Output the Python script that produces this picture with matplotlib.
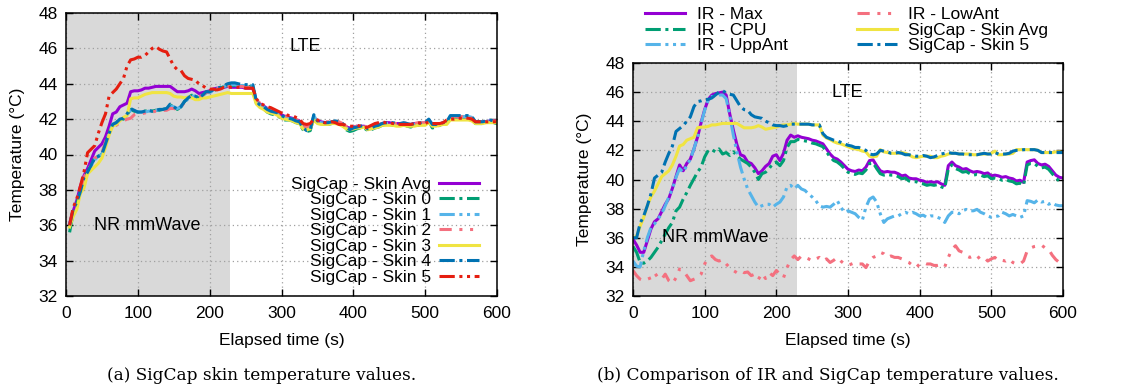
import numpy as np
import matplotlib
matplotlib.use("Agg")
import matplotlib.pyplot as plt

# ---------------- data (5 s sampling, 0..600 s) ----------------
time_s = np.arange(0, 601, 5)

skin_avg = [36.0, 36.1, 36.8, 37.4, 38.2, 38.8, 39.2, 39.7, 40.2, 40.4,
            40.6, 41.0, 41.6, 42.3, 42.4, 42.7, 42.8, 42.9, 43.55, 43.6,
            43.6, 43.65, 43.75, 43.75, 43.8, 43.85, 43.85, 43.85, 43.85, 43.85,
            43.7, 43.55, 43.55, 43.55, 43.6, 43.7, 43.6, 43.45, 43.5, 43.55,
            43.6, 43.7, 43.75, 43.75, 43.8, 43.85, 43.8, 43.8, 43.8, 43.8,
            43.75, 43.75, 43.75, 43.05, 42.85, 42.75, 42.6, 42.5, 42.45, 42.35,
            42.25, 42.15, 42.1, 42.05, 41.95, 41.9, 41.6, 41.55, 41.6, 42.05,
            41.9, 41.85, 41.8, 41.8, 41.8, 41.85, 41.8, 41.7, 41.55, 41.5,
            41.55, 41.6, 41.6, 41.6, 41.5, 41.5, 41.6, 41.65, 41.75, 41.8,
            41.8, 41.75, 41.75, 41.75, 41.75, 41.7, 41.7, 41.75, 41.75, 41.75,
            41.8, 41.95, 41.7, 41.7, 41.75, 41.75, 41.8, 42.05, 42.05, 42.05,
            42.05, 42.05, 42.05, 42.0, 41.85, 41.85, 41.85, 41.85, 41.9, 41.9,
            41.85]

skin0 = [35.6, 35.6, 36.7, 37.2, 37.9, 38.6, 39.0, 39.4, 39.8, 39.9,
         40.0, 40.6, 41.2, 41.7, 41.8, 42.0, 42.0, 42.25, 42.55, 42.45,
         42.4, 42.4, 42.45, 42.5, 42.45, 42.5, 42.5, 42.55, 42.6, 42.8,
         42.7, 42.55, 42.7, 43.0, 43.2, 43.35, 43.3, 43.2, 43.35, 43.5,
         43.55, 43.6, 43.7, 43.75, 43.85, 43.9, 43.9, 43.9, 43.9, 43.85,
         43.85, 43.85, 43.85, 42.9, 42.7, 42.6, 42.4, 42.3, 42.25, 42.2,
         42.0, 41.95, 41.95, 41.9, 41.8, 41.75, 41.4, 41.3, 41.35, 42.1,
         41.8, 41.75, 41.7, 41.7, 41.75, 41.8, 41.75, 41.65, 41.4, 41.3,
         41.35, 41.45, 41.5, 41.5, 41.35, 41.4, 41.5, 41.55, 41.65, 41.7,
         41.7, 41.65, 41.65, 41.65, 41.7, 41.6, 41.55, 41.65, 41.65, 41.7,
         41.7, 41.9, 41.5, 41.55, 41.65, 41.7, 41.75, 42.1, 42.1, 42.1,
         42.1, 42.1, 42.1, 42.0, 41.75, 41.75, 41.75, 41.8, 41.85, 41.8,
         41.75]

skin1 = [35.9, 36.0, 36.8, 37.3, 37.9, 38.6, 39.0, 39.35, 39.7, 39.9,
         40.0, 40.6, 41.2, 41.7, 41.8, 41.95, 42.0, 42.2, 42.5, 42.45,
         42.4, 42.4, 42.4, 42.45, 42.45, 42.5, 42.5, 42.55, 42.6, 42.75,
         42.7, 42.6, 42.7, 42.95, 43.15, 43.3, 43.3, 43.2, 43.3, 43.5,
         43.5, 43.6, 43.7, 43.75, 43.85, 43.9, 43.95, 43.95, 43.9, 43.9,
         43.9, 43.9, 43.9, 43.0, 42.8, 42.7, 42.5, 42.45, 42.4, 42.3,
         42.15, 42.1, 42.05, 42.0, 41.9, 41.85, 41.5, 41.4, 41.45, 42.2,
         41.85, 41.8, 41.75, 41.75, 41.8, 41.85, 41.8, 41.7, 41.5, 41.4,
         41.45, 41.5, 41.55, 41.6, 41.45, 41.45, 41.55, 41.6, 41.7, 41.75,
         41.75, 41.75, 41.7, 41.7, 41.75, 41.7, 41.65, 41.7, 41.7, 41.75,
         41.75, 41.95, 41.65, 41.65, 41.7, 41.75, 41.8, 42.15, 42.15, 42.15,
         42.15, 42.15, 42.15, 42.1, 41.8, 41.8, 41.8, 41.85, 41.9, 41.85,
         41.85]

skin2 = [36.0, 36.0, 36.9, 37.3, 37.9, 38.7, 39.1, 39.4, 39.8, 39.9,
         40.1, 40.7, 41.2, 41.6, 41.65, 41.8, 41.9, 42.0, 42.05, 42.25,
         42.3, 42.3, 42.35, 42.4, 42.4, 42.45, 42.45, 42.5, 42.5, 42.6,
         42.6, 42.55, 42.7, 42.95, 43.15, 43.3, 43.3, 43.25, 43.35, 43.5,
         43.55, 43.6, 43.7, 43.75, 43.8, 43.85, 43.85, 43.85, 43.85, 43.85,
         43.8, 43.8, 43.8, 43.1, 42.9, 42.8, 42.65, 42.55, 42.5, 42.4,
         42.3, 42.2, 42.15, 42.1, 42.0, 41.9, 41.65, 41.55, 41.6, 42.1,
         41.9, 41.85, 41.85, 41.85, 41.9, 41.9, 41.85, 41.75, 41.6, 41.5,
         41.55, 41.6, 41.6, 41.65, 41.5, 41.55, 41.6, 41.7, 41.75, 41.8,
         41.8, 41.8, 41.75, 41.75, 41.8, 41.75, 41.75, 41.75, 41.8, 41.8,
         41.8, 41.95, 41.75, 41.75, 41.75, 41.8, 41.85, 42.15, 42.15, 42.15,
         42.15, 42.1, 42.1, 42.05, 41.85, 41.85, 41.85, 41.9, 41.9, 41.9,
         41.9]

skin3 = [35.9, 35.9, 36.5, 36.9, 37.8, 38.1, 38.9, 39.1, 39.3, 39.5,
         39.8, 40.4, 41.1, 41.6, 41.7, 41.9, 42.1, 42.2, 43.15, 43.2,
         43.2, 43.3, 43.4, 43.45, 43.5, 43.5, 43.5, 43.5, 43.5, 43.45,
         43.3, 43.25, 43.25, 43.2, 43.25, 43.2, 43.1, 43.1, 43.2, 43.2,
         43.25, 43.3, 43.35, 43.4, 43.45, 43.5, 43.45, 43.45, 43.45, 43.45,
         43.45, 43.45, 43.45, 42.85, 42.65, 42.55, 42.4, 42.35, 42.3, 42.2,
         42.05, 42.0, 41.95, 41.9, 41.8, 41.75, 41.45, 41.4, 41.45, 41.95,
         41.75, 41.7, 41.7, 41.7, 41.75, 41.75, 41.7, 41.6, 41.45, 41.4,
         41.45, 41.5, 41.5, 41.55, 41.4, 41.45, 41.5, 41.55, 41.65, 41.65,
         41.65, 41.65, 41.6, 41.6, 41.65, 41.6, 41.6, 41.6, 41.65, 41.65,
         41.65, 41.8, 41.6, 41.6, 41.65, 41.7, 41.7, 41.95, 41.95, 41.95,
         41.95, 41.95, 41.95, 41.9, 41.75, 41.75, 41.75, 41.8, 41.8, 41.8,
         41.8]

skin4 = [36.0, 36.0, 36.9, 37.3, 37.9, 38.7, 39.0, 39.4, 39.8, 39.9,
         40.0, 40.6, 41.2, 41.7, 41.8, 42.0, 42.05, 42.3, 42.6, 42.5,
         42.4, 42.4, 42.45, 42.5, 42.45, 42.5, 42.55, 42.55, 42.6, 42.85,
         42.7, 42.55, 42.7, 43.0, 43.2, 43.35, 43.3, 43.2, 43.35, 43.55,
         43.55, 43.65, 43.75, 43.8, 43.9, 44.0, 44.05, 44.05, 44.0, 43.95,
         43.95, 43.95, 43.95, 43.0, 42.8, 42.7, 42.55, 42.45, 42.4, 42.35,
         42.2, 42.1, 42.05, 42.0, 41.9, 41.85, 41.5, 41.35, 41.4, 42.25,
         41.9, 41.85, 41.8, 41.8, 41.85, 41.9, 41.85, 41.75, 41.55, 41.4,
         41.5, 41.55, 41.6, 41.65, 41.45, 41.5, 41.6, 41.65, 41.75, 41.8,
         41.8, 41.8, 41.75, 41.75, 41.8, 41.75, 41.7, 41.75, 41.75, 41.8,
         41.8, 42.0, 41.7, 41.7, 41.75, 41.8, 41.85, 42.2, 42.2, 42.2,
         42.2, 42.2, 42.2, 42.15, 41.85, 41.85, 41.85, 41.9, 41.95, 41.9,
         41.9]

skin5 = [36.0, 36.0, 37.0, 37.5, 38.2, 39.0, 40.1, 40.3, 40.5, 41.2,
         41.8, 42.3, 43.3, 43.5, 43.7, 44.0, 44.3, 45.0, 45.35, 45.4,
         45.5, 45.5, 45.6, 45.8, 46.0, 46.1, 45.95, 45.85, 45.8, 45.4,
         45.0, 44.8, 44.75, 44.45, 44.3, 44.25, 44.2, 44.0, 43.9, 43.75,
         43.7, 43.7, 43.65, 43.7, 43.8, 43.8, 43.8, 43.8, 43.8, 43.8,
         43.75, 43.75, 43.75, 43.15, 42.9, 42.8, 42.7, 42.65, 42.55, 42.45,
         42.35, 42.3, 42.2, 42.2, 42.1, 42.0, 41.75, 41.7, 41.75, 42.0,
         41.95, 41.9, 41.8, 41.8, 41.85, 41.8, 41.7, 41.7, 41.65, 41.6,
         41.6, 41.65, 41.6, 41.5, 41.55, 41.65, 41.75, 41.8, 41.85, 41.8,
         41.8, 41.75, 41.75, 41.7, 41.7, 41.7, 41.7, 41.75, 41.8, 41.75,
         41.75, 41.85, 41.75, 41.75, 41.75, 41.8, 41.95, 42.0, 42.0, 42.05,
         42.05, 42.05, 42.05, 42.0, 41.85, 41.85, 41.85, 41.85, 41.85, 41.85,
         41.85]

ir_max = [35.9, 35.5, 35.0, 35.0, 35.8, 36.6, 37.1, 37.3, 37.8, 38.3,
          38.7, 39.4, 40.2, 41.0, 40.6, 41.1, 41.4, 42.1, 42.9, 43.9,
          44.8, 45.5, 45.8, 45.9, 45.95, 46.0, 45.8, 44.5, 43.4, 42.4,
          41.7, 41.6, 41.2, 41.1, 40.8, 40.4, 40.6, 40.9, 41.1, 41.6,
          41.7, 41.3, 41.8, 42.7, 43.05, 42.9, 43.0, 42.9, 42.85, 42.8,
          42.7, 42.65, 42.55, 42.45, 42.1, 41.75, 41.5, 41.4, 41.2, 40.95,
          40.7, 40.6, 40.55, 40.65, 40.6, 40.85, 41.3, 41.35, 40.95, 40.6,
          40.5, 40.55, 40.5, 40.5, 40.4, 40.25, 40.3, 40.1, 40.05, 40.05,
          39.95, 39.9, 39.8, 39.85, 39.8, 39.85, 39.7, 39.6, 40.95, 41.2,
          40.95, 40.85, 40.7, 40.75, 40.6, 40.5, 40.55, 40.5, 40.4, 40.45,
          40.25, 40.3, 40.25, 40.15, 40.2, 40.1, 40.05, 39.9, 39.95, 39.8,
          41.2, 41.3, 41.35, 41.1, 41.0, 41.05, 40.9, 40.6, 40.3, 40.15,
          40.1]

ir_cpu = [35.4, 35.0, 34.3, 34.25, 34.4, 34.65, 35.0, 35.35, 35.8, 36.25,
          36.7, 37.05, 37.85, 38.1, 38.65, 39.1, 39.6, 40.05, 40.5, 40.85,
          41.55, 42.0, 42.05, 41.9, 42.1, 41.75, 41.85, 41.65, 41.9, 41.65,
          41.4, 41.25, 41.1, 40.85, 40.5, 40.0, 40.4, 40.5, 40.75, 41.1,
          41.2, 40.95, 41.3, 42.2, 42.6, 42.6, 42.75, 42.7, 42.65, 42.6,
          42.5, 42.45, 42.35, 42.25, 41.9, 41.55, 41.3, 41.2, 41.0, 40.75,
          40.5, 40.4, 40.35, 40.45, 40.4, 40.65, 41.1, 41.15, 40.75, 40.4,
          40.3, 40.35, 40.3, 40.3, 40.2, 40.05, 40.1, 39.9, 39.85, 39.85,
          39.75, 39.7, 39.6, 39.65, 39.6, 39.65, 39.5, 39.4, 40.75, 41.0,
          40.75, 40.65, 40.5, 40.55, 40.4, 40.3, 40.35, 40.3, 40.2, 40.25,
          40.05, 40.1, 40.05, 39.95, 40.0, 39.9, 39.85, 39.7, 39.75, 39.6,
          41.0, 41.1, 41.1, 40.9, 40.8, 40.85, 40.7, 40.4, 40.1, 39.9,
          39.85]

ir_uppant = [34.4, 34.05, 34.0, 35.1, 36.0, 36.7, 36.95, 37.3, 37.65, 38.2,
             38.8, 39.35, 40.15, 40.75, 40.5, 40.95, 41.4, 42.1, 42.9, 43.85,
             44.75, 45.45, 45.7, 45.7, 45.8, 45.8, 45.55, 44.4, 43.05, 41.9,
             40.85, 40.05, 39.35, 38.9, 38.45, 38.1, 38.2, 38.3, 38.3, 38.1,
             38.3, 38.45, 38.8, 39.5, 39.6, 39.35, 39.6, 39.35, 39.25, 39.0,
             38.8, 38.55, 38.2, 38.1, 38.15, 38.1, 38.3, 38.55, 38.1, 37.75,
             37.85, 37.75, 37.65, 37.4, 37.2, 38.1, 38.65, 38.8, 38.45, 37.65,
             37.05, 37.3, 37.4, 37.5, 37.5, 37.65, 37.75, 37.65, 37.75, 37.65,
             37.5, 37.55, 37.4, 37.5, 37.5, 37.4, 37.3, 37.05, 37.5, 37.75,
             37.75, 37.65, 37.85, 37.95, 37.85, 37.85, 37.95, 37.75, 37.65, 37.5,
             37.4, 37.45, 37.5, 37.75, 37.65, 37.5, 37.6, 37.5, 37.4, 37.5,
             38.55, 38.5, 38.4, 38.6, 38.45, 38.5, 38.3, 38.4, 38.25, 38.2,
             38.2]

ir_lowant = [33.75, 33.4, 33.15, 33.05, 33.15, 33.25, 33.6, 33.25, 33.15, 33.5,
             33.05, 32.85, 33.25, 33.85, 33.75, 33.4, 33.05, 33.15, 33.25, 33.5,
             34.2, 34.65, 34.75, 34.5, 34.4, 34.5, 34.2, 33.95, 33.75, 33.6,
             33.75, 33.6, 33.65, 33.4, 33.5, 33.15, 33.55, 33.2, 33.6, 33.4,
             33.75, 33.5, 33.25, 33.95, 34.5, 34.75, 34.5, 34.75, 34.65, 34.55,
             34.4, 34.55, 34.65, 34.4, 34.55, 34.3, 34.45, 34.65, 34.4, 34.2,
             34.1, 34.2, 34.3, 34.2, 34.2, 33.95, 34.4, 34.65, 34.75, 35.0,
             34.9, 34.65, 34.75, 34.65, 34.65, 34.55, 34.4, 34.3, 34.1, 33.95,
             34.2, 34.3, 34.2, 34.2, 34.1, 34.1, 34.15, 34.0, 34.65, 35.2,
             35.45, 35.1, 35.0, 34.75, 34.65, 34.75, 34.55, 34.75, 34.65, 34.4,
             34.55, 34.65, 34.4, 34.45, 34.4, 34.55, 34.3, 34.2, 34.2, 34.4,
             35.1, 35.3, 35.4, 35.45, 35.5, 35.3, 35.2, 34.8, 34.5, 34.3,
             34.3]

x_ticks = [0, 100, 200, 300, 400, 500, 600]
y_ticks = [32, 34, 36, 38, 40, 42, 44, 46, 48]
nr_end = 229

# ---------------- styles ----------------
PURPLE = "#9400d3"
GREEN = "#009e73"
LBLUE = "#56b4e9"
PINK = "#f4707f"
YELLOW = "#f0e442"
BLUE = "#0072b2"
RED = "#e51e10"

DASHDOT = (0, (5, 1.5, 1, 1.5))
DASHDOTDOT = (0, (5, 1.5, 1, 1.5, 1, 1.5))
DASHDOTDOT_SP = (0, (4, 2.5, 1, 2.5, 1, 2.5))

plt.rcParams['font.family'] = ['Liberation Sans', 'DejaVu Sans']
FS = 12.5
LW = 2.2

W, H = 1121, 387
fig = plt.figure(figsize=(W / 100, H / 100), dpi=100)


def px_axes(x0, x1, y0, y1):
    return fig.add_axes([x0 / W, 1 - y1 / H, (x1 - x0) / W, (y1 - y0) / H])


def style_axes(ax):
    ax.set_xlim(0, 600)
    ax.set_ylim(32, 48)
    ax.set_xticks(x_ticks)
    ax.set_yticks(y_ticks)
    ax.axvspan(0, nr_end, color="#d9d9d9", lw=0, zorder=0)
    ax.grid(True, color="#a0a0a0", linestyle=(0, (1, 2.5)), linewidth=0.9, zorder=1)
    ax.set_axisbelow(False)
    ax.tick_params(direction="in", top=True, right=True, length=5, width=1,
                   labelsize=FS)
    ax.tick_params(axis="x", pad=7)
    ax.tick_params(axis="y", pad=6)
    for s in ax.spines.values():
        s.set_linewidth(1.1)
        s.set_zorder(5)
    ax.set_xlabel("Elapsed time (s)", fontsize=FS, labelpad=9)
    ax.set_ylabel("Temperature (°C)", fontsize=FS, labelpad=10)


# ---------------- left panel ----------------
axL = px_axes(66, 497, 13, 296)
style_axes(axL)
series_L = [
    ("SigCap - Skin Avg", skin_avg, PURPLE, "-"),
    ("SigCap - Skin 0", skin0, GREEN, DASHDOT),
    ("SigCap - Skin 1", skin1, LBLUE, DASHDOTDOT),
    ("SigCap - Skin 2", skin2, PINK, DASHDOTDOT_SP),
    ("SigCap - Skin 3", skin3, YELLOW, "-"),
    ("SigCap - Skin 4", skin4, BLUE, DASHDOT),
    ("SigCap - Skin 5", skin5, RED, DASHDOTDOT),
]
for lab, y, c, ls in series_L:
    axL.plot(time_s[1:], y[1:], color=c, linestyle=ls, lw=LW, label=lab, zorder=3)
axL.text(333, 46.1, "LTE", fontsize=FS + 0.5, ha="center", va="center")
axL.text(113, 36.0, "NR mmWave", fontsize=FS + 0.5, ha="center", va="center")
legL = axL.legend(loc="lower right", bbox_to_anchor=(0.985, 0.0), frameon=False,
                  markerfirst=False, fontsize=FS, handlelength=2.3,
                  handletextpad=0.5, labelspacing=0.02, borderaxespad=0.25)

# ---------------- right panel ----------------
axR = px_axes(633, 1063, 63, 296)
style_axes(axR)
series_R = [
    ("IR - Max", ir_max, PURPLE, "-"),
    ("IR - CPU", ir_cpu, GREEN, DASHDOT),
    ("IR - UppAnt", ir_uppant, LBLUE, DASHDOTDOT),
    ("IR - LowAnt", ir_lowant, PINK, DASHDOTDOT_SP),
    ("SigCap - Skin Avg", skin_avg, YELLOW, "-"),
    ("SigCap - Skin 5", skin5, BLUE, DASHDOT),
]
for lab, y, c, ls in series_R:
    axR.plot(time_s, y, color=c, linestyle=ls, lw=LW, label=lab, zorder=3)
axR.text(299, 46.0, "LTE", fontsize=FS + 0.5, ha="center", va="center")
axR.text(115, 36.0, "NR mmWave", fontsize=FS + 0.5, ha="center", va="center")
legR = axR.legend(loc="lower left", bbox_to_anchor=(0.025, 1.035), ncol=2,
                  frameon=False, fontsize=FS, handlelength=2.3,
                  handletextpad=0.65, labelspacing=0.02, columnspacing=4.0,
                  borderaxespad=0.0, borderpad=0.1)

# ---------------- captions ----------------
fig.text(262 / W, 1 - 375 / H, "(a) SigCap skin temperature values.",
         family="DejaVu Serif", fontsize=12.2, ha="center", va="center")
fig.text(828 / W, 1 - 375 / H, "(b) Comparison of IR and SigCap temperature values.",
         family="DejaVu Serif", fontsize=12.2, ha="center", va="center")

fig.savefig("out.png", dpi=100)
